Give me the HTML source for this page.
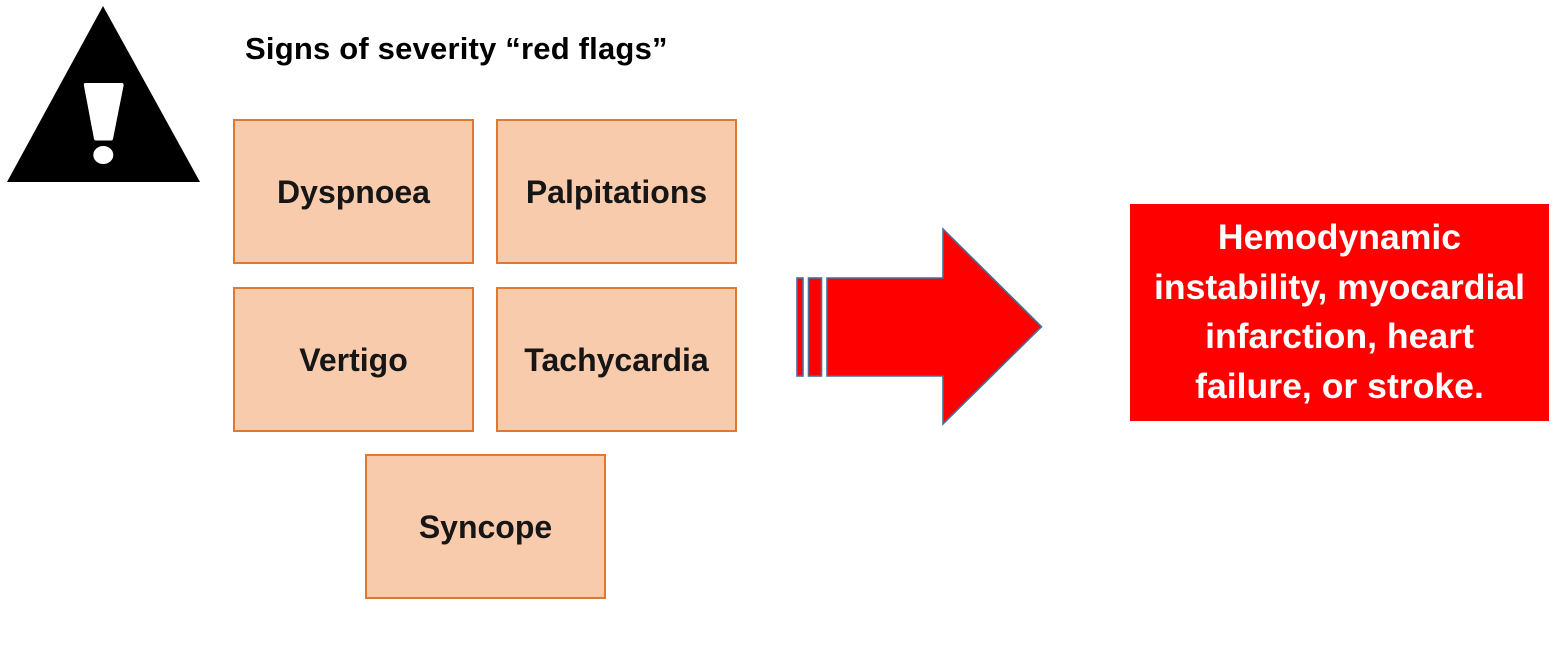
<!DOCTYPE html>
<html>
<head>
<meta charset="utf-8">
<style>
  html, body { margin:0; padding:0; background:#fff; }
  body { width:1564px; height:664px; position:relative; overflow:hidden; font-family:"Liberation Sans", Arial, sans-serif; }
  .box { position:absolute; box-sizing:border-box; width:241px; height:145px; background:#f8cbad; border:2px solid #e0782f;
         display:flex; align-items:center; justify-content:center; font-weight:bold; font-size:32px; line-height:40px; color:#161616; }
  .title { position:absolute; left:245px; top:31px; font-weight:bold; font-size:31px; line-height:36px; letter-spacing:0.2px; color:#000; white-space:nowrap; }
  .red { position:absolute; left:1130px; top:204px; width:419px; height:217px; background:#ff0000; }
  .redtext { position:absolute; left:1130px; top:213px; width:419px; text-align:center; color:#fff; font-weight:bold; font-size:35.6px; line-height:49.5px; }
  svg { position:absolute; left:0; top:0; }
</style>
</head>
<body>
<svg width="1564" height="664" viewBox="0 0 1564 664">
  <polygon points="103,6 200,182 7,182" fill="#000"/>
  <path d="M85,83 L122,83 Q124,83 123.5,86 L113,139 Q112.5,140.5 111,140.5 L96,140.5 Q94.5,140.5 94,139 L84,86 Q83.5,83 85,83 Z" fill="#fff"/>
  <ellipse cx="103.3" cy="155" rx="10" ry="9" fill="#fff"/>
  <g fill="#ff0000" stroke="#41719c" stroke-width="1.6">
    <rect x="797" y="278" width="6" height="98"/>
    <rect x="808.5" y="278" width="13" height="98"/>
    <polygon points="827,278 943,278 943,229 1041.5,326.7 943,424 943,376 827,376"/>
  </g>
</svg>

<div class="title">Signs of severity “red flags”</div>

<div class="box" style="left:233px; top:119px;">Dyspnoea</div>
<div class="box" style="left:496px; top:119px;">Palpitations</div>
<div class="box" style="left:233px; top:287px;">Vertigo</div>
<div class="box" style="left:496px; top:287px;">Tachycardia</div>
<div class="box" style="left:365px; top:454px;">Syncope</div>

<div class="red"></div>
<div class="redtext">Hemodynamic<br>instability, myocardial<br>infarction, heart<br>failure, or stroke.</div>
</body>
</html>
